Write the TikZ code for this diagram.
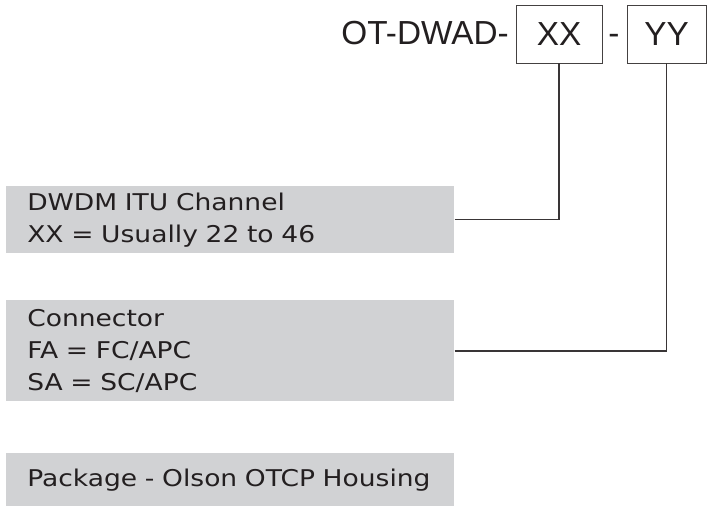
\documentclass[tikz,border=0pt]{standalone}
\usepackage{xcolor}
\usepackage{fontspec}
\usepackage{tikz}
\usetikzlibrary{positioning,calc}
\setmainfont{DejaVu Sans}
\newfontfamily\descfont[FakeStretch=1.15]{DejaVu Sans}
\newfontfamily\codefont{Liberation Sans}
\definecolor{boxgray}{HTML}{D1D2D4}
\definecolor{inkdark}{HTML}{231F20}

\tikzset{
  infobox/.style={fill=boxgray, anchor=north west, minimum width=336pt, text width=304.5pt,
    inner xsep=15.75pt, inner ysep=0pt, align=left, text=inkdark,
    font=\descfont\fontsize{17.3}{24}\selectfont},
  codebox/.style={draw=inkdark!85, line width=0.6pt, minimum height=43.5pt, inner sep=0pt,
    text=inkdark, font=\codefont\fontsize{25}{28}\selectfont},
  codetext/.style={inner sep=0pt, text=inkdark, font=\codefont\fontsize{25}{28}\selectfont},
  link/.style={draw=inkdark!90, line width=1.1pt}
}

\begin{document}
\begin{tikzpicture}[x=0.75pt,y=-0.75pt]
    \useasboundingbox (0,0) rectangle (707,506);

    % part number
    \node[codetext, anchor=base east] (prefix) at (509,45) {OT-DWAD-};
    \node[codebox, minimum width=64.5pt] (xx) at (559,34) {XX};
    \node[codetext, anchor=base] (dash) at (614,45) {-};
    \node[codebox, minimum width=59.25pt] (yy) at (666.5,34) {YY};

    % descriptions
    \node[infobox, minimum height=50.25pt] (chan) at (6,186) {DWDM ITU Channel\\XX = Usually 22 to 46};
    \node[infobox, minimum height=75.75pt] (conn) at (6,300) {Connector\\FA = FC/APC\\SA = SC/APC};
    \node[infobox, minimum height=39.75pt] (pack) at (6,453) {Package - Olson OTCP Housing};

    \draw[link] (chan.east) -| (xx.south);
    \draw[link] (conn.east) -| (yy.south);
\end{tikzpicture}
\end{document}
